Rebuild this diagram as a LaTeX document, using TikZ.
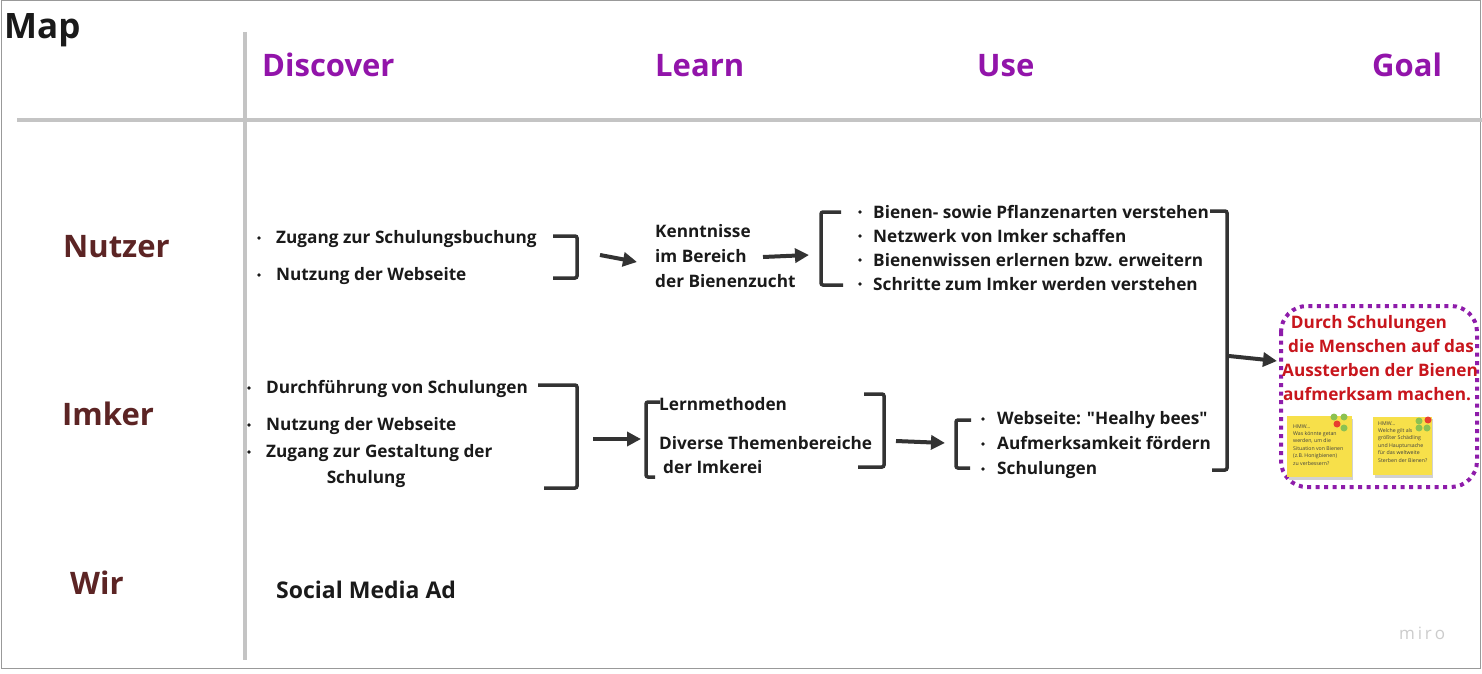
\documentclass[tikz,border=0pt]{standalone}
\usepackage{fontspec}
\setmainfont{Open Sans}[Ligatures=TeXOff]
\usetikzlibrary{arrows.meta}
\definecolor{hdrpurple}{HTML}{9214AA}
\definecolor{rowbrown}{HTML}{5C2424}
\definecolor{goalred}{HTML}{C8161D}
\definecolor{dotpurple}{HTML}{8E1CAA}
\definecolor{gridgray}{HTML}{C4C4C4}
\definecolor{brk}{HTML}{333333}
\definecolor{sticky}{HTML}{F7E04A}
\definecolor{dotgreen}{HTML}{8CC152}
\definecolor{dotred}{HTML}{E8402F}
\definecolor{txt}{HTML}{1A1A1A}
\begin{document}
\begin{tikzpicture}[x=1pt,y=-1pt,
  hdr/.style={font=\fontsize{31}{34}\selectfont\bfseries, text=hdrpurple, inner sep=0pt, anchor=base west},
  rowlbl/.style={font=\fontsize{31}{34}\selectfont\bfseries, text=rowbrown, inner sep=0pt, anchor=base west},
  item/.style={font=\fontsize{17.2}{21}\selectfont\bfseries, text=txt, inner sep=0pt, anchor=base west},
  goaltxt/.style={font=\fontsize{17.2}{24}\selectfont\bfseries, text=goalred, inner sep=0pt, anchor=base},
  note/.style={font=\fontsize{5.2}{7.4}\selectfont, text=black!75, inner sep=0pt, anchor=base west},
  bracketline/.style={draw=brk, line width=3.5pt, rounded corners=2pt},
  arr/.style={draw=brk, line width=4pt, -{Triangle[length=14pt,width=14pt]}},
  bul/.style={fill=txt},
  grid/.style={draw=gridgray, line width=4pt}]
\useasboundingbox (0,0) rectangle (1482,674);
\fill[white] (0,0) rectangle (1482,674);
\draw[gray!80, line width=1pt] (1,1) rectangle (1480,668);

% grid
\draw[grid] (245,32) -- (245,660);
\draw[grid] (17,120) -- (1482,120);

% titles
\node[font=\fontsize{35}{38}\selectfont\bfseries, text=txt, inner sep=0pt, anchor=base west] (map) at (4,39) {Map};
\node[hdr] (hdisc) at (262,77) {Discover};
\node[hdr] (hlearn) at (655,77) {Learn};
\node[hdr] (huse) at (977,77) {Use};
\node[hdr] (hgoal) at (1372,77) {Goal};
\node[rowlbl] (rnutzer) at (63,257) {Nutzer};
\node[rowlbl] (rimker) at (62,425) {Imker};
\node[rowlbl] (rwir) at (70,594) {Wir};

% Nutzer - Discover
\fill[bul] (259,238) circle (1.9);
\fill[bul] (259,275) circle (1.9);
\node[item] (n1) at (276,243) {Zugang zur Schulungsbuchung};
\node[item] (n2) at (276,280) {Nutzung der Webseite};
\draw[bracketline] (553,236) -- (577,236) -- (577,278) -- (553,278);
\coordinate (a1s) at (600,255);
\coordinate (a1e) at (637,262);
\draw[arr] (a1s) -- (a1e);

% Nutzer - Learn
\node[item] (k1) at (655,237) {Kenntnisse};
\node[item] (k2) at (655,262) {im Bereich};
\node[item] (k3) at (655,287) {der Bienenzucht};
\coordinate (a2s) at (763,257);
\coordinate (a2e) at (809,255);
\draw[arr] (a2s) -- (a2e);

% Nutzer - Use
\draw[bracketline] (841,212) -- (821,212) -- (821,285) -- (843,285);
\fill[bul] (860,212) circle (1.9);
\fill[bul] (860,236) circle (1.9);
\fill[bul] (860,260) circle (1.9);
\fill[bul] (860,284) circle (1.9);
\node[item] (u1) at (873,218) {Bienen- sowie Pflanzenarten verstehen};
\node[item] (u2) at (873,242) {Netzwerk von Imker schaffen};
\node[item] (u3) at (873,266) {Bienenwissen erlernen bzw. erweitern};
\node[item] (u4) at (873,290) {Schritte zum Imker werden verstehen};

% big right bracket
\draw[bracketline] (1210,211) -- (1227,211) -- (1227,470) -- (1212,470);
\coordinate (a5s) at (1229,356);
\coordinate (a5e) at (1277,361);
\draw[arr] (a5s) -- (a5e);

% Imker - Discover
\fill[bul] (249,388) circle (1.9);
\fill[bul] (249,425) circle (1.9);
\fill[bul] (249,452) circle (1.9);
\node[item] (i1) at (266,393) {Durchführung von Schulungen};
\node[item] (i2) at (266,430) {Nutzung der Webseite};
\node[item] (i3) at (266,457) {Zugang zur Gestaltung der};
\node[item, anchor=base] (i4) at (366,483) {Schulung};
\draw[bracketline] (538,385) -- (577,385) -- (577,488) -- (544,488);
\coordinate (a3s) at (593,439);
\coordinate (a3e) at (641,439);
\draw[arr] (a3s) -- (a3e);

% Imker - Learn
\draw[bracketline] (660,402) -- (646,402) -- (646,477) -- (655,477);
\node[item] (l1) at (659,410) {Lernmethoden};
\node[item] (l2) at (659,449) {Diverse Themenbereiche};
\node[item] (l3) at (663,473) {der Imkerei};
\draw[bracketline] (864,394) -- (884,394) -- (884,467) -- (858,467);
\coordinate (a4s) at (896,441);
\coordinate (a4e) at (945,443);
\draw[arr] (a4s) -- (a4e);

% Imker - Use
\draw[bracketline] (971,420) -- (956,420) -- (956,468) -- (970,468);
\fill[bul] (983,419) circle (1.9);
\fill[bul] (983,444) circle (1.9);
\fill[bul] (983,469) circle (1.9);
\node[item] (v1) at (997,424) {Webseite: "Healhy bees"};
\node[item] (v2) at (997,449) {Aufmerksamkeit fördern};
\node[item] (v3) at (997,474) {Schulungen};

% Wir
\node[font=\fontsize{23}{26}\selectfont\bfseries, text=txt, inner sep=0pt, anchor=base west] (social) at (276,598) {Social Media Ad};

% Goal box
\draw[dotpurple, line width=4pt, dash pattern=on 4pt off 4.5pt, rounded corners=26pt] (1281,306) rectangle (1477,487);
\node[goaltxt] (g1) at (1369,328) {Durch Schulungen};
\node[goaltxt] (g2) at (1381,352) {die Menschen auf das};
\node[goaltxt] (g3) at (1380,376) {Aussterben der Bienen};
\node[goaltxt] (g4) at (1377,400) {aufmerksam machen.};

% sticky notes
\fill[black!18] (1289,419) rectangle (1353,480);
\fill[sticky] (1287,416) rectangle (1352,477);
\fill[black!18] (1375,419) rectangle (1433,478);
\fill[sticky] (1373,417) rectangle (1432,475);
\fill[dotgreen] (1334,417) circle (3.5);
\fill[dotgreen] (1344,417) circle (3.5);
\fill[dotred] (1337,424) circle (3.5);
\fill[dotgreen] (1344,428) circle (3.5);
\fill[dotgreen] (1419,421) circle (3.5);
\fill[dotred] (1428,420) circle (3.5);
\fill[dotgreen] (1419,428) circle (3.5);
\fill[dotgreen] (1427,428) circle (3.5);
\node[note] (s1a) at (1293,428) {HMW...};
\node[note] (s1b) at (1293,435) {Was könnte getan};
\node[note] (s1c) at (1293,442.5) {werden, um die};
\node[note] (s1d) at (1293,450) {Situation von Bienen};
\node[note] (s1e) at (1293,457.5) {(z.B. Honigbienen)};
\node[note] (s1f) at (1293,465) {zu verbessern?};
\node[note] (s2a) at (1378,425) {HMW...};
\node[note] (s2b) at (1378,432) {Welche gilt als};
\node[note] (s2c) at (1378,439.5) {größter Schädling};
\node[note] (s2d) at (1378,447) {und Hauptursache};
\node[note] (s2e) at (1378,454.5) {für das weltweite};
\node[note] (s2f) at (1378,462) {Sterben der Bienen?};

% miro
\node[font=\fontsize{17}{20}\selectfont, text=gray!40, inner sep=0pt, anchor=base west] (miro) at (1399,639) {m\,i\,r\,o};
\end{tikzpicture}
\end{document}
